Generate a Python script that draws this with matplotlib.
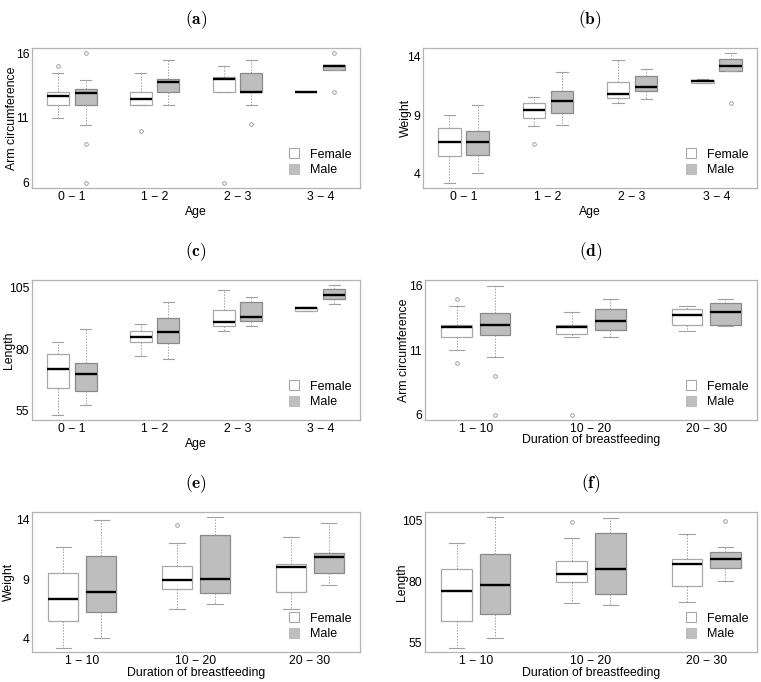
import matplotlib
matplotlib.use('Agg')
import matplotlib.pyplot as plt
from matplotlib.patches import Patch

plt.rcParams['font.family'] = ['Liberation Sans', 'DejaVu Sans']
plt.rcParams['mathtext.fontset'] = 'cm'

age_groups = ['0 \u2212 1', '1 \u2212 2', '2 \u2212 3', '3 \u2212 4']
bf_groups = ['1 \u2212 10', '10 \u2212 20', '20 \u2212 30']
sexes = ['Female', 'Male']

# five-number summaries per group: [lower whisker, Q1, median, Q3, upper whisker]
# (a) Arm circumference by age
a_female = [[11.0, 12.0, 12.69, 13.0, 14.46], [12.0, 12.0, 12.49, 13.0, 14.46],
            [13.0, 13.0, 14.0, 14.13, 15.0], [13.0, 13.0, 13.0, 13.0, 13.0]]
a_male = [[10.46, 12.0, 12.92, 13.23, 13.97], [12.0, 13.0, 13.8, 14.0, 15.46],
          [12.0, 13.0, 13.0, 14.46, 15.46], [14.7, 14.7, 15.0, 15.1, 15.1]]
a_female_out = [[15.0], [10.0], [6.0], []]
a_male_out = [[16.0, 9.0, 6.0], [], [10.5], [16.0, 13.0]]

# (b) Weight by age
b_female = [[3.2, 5.51, 6.74, 7.91, 9.03], [8.09, 8.77, 9.46, 10.09, 10.57],
            [10.09, 10.49, 10.8, 11.86, 13.74], [11.77, 11.8, 11.94, 12.06, 12.1]]
b_male = [[4.06, 5.6, 6.74, 7.66, 9.89], [8.17, 9.2, 10.2, 11.09, 12.71],
          [10.4, 11.09, 11.4, 12.37, 12.97], [12.8, 12.8, 13.2, 13.83, 14.34]]
b_female_out = [[], [6.54], [], []]
b_male_out = [[], [], [], [10.09]]

# (c) Length by age
c_female = [[53.2, 64.2, 72.0, 78.0, 82.8], [77.2, 82.8, 85.1, 87.3, 90.1],
            [87.3, 89.3, 91.1, 95.8, 103.9], [95.4, 95.4, 96.6, 97.3, 97.3]]
c_male = [[57.3, 63.2, 70.1, 74.3, 88.1], [76.0, 82.7, 87.2, 92.6, 99.1],
          [89.5, 91.6, 93.0, 99.1, 101.4], [98.2, 100.3, 101.9, 104.3, 105.9]]
c_female_out = [[], [], [], []]
c_male_out = [[], [], [], []]

# (d) Arm circumference by duration of breastfeeding
d_female = [[11.0, 12.0, 12.79, 13.0, 14.46], [12.0, 12.23, 12.79, 13.0, 14.0],
            [12.46, 13.0, 13.74, 14.23, 14.46]]
d_male = [[10.49, 12.15, 12.97, 13.92, 16.0], [12.0, 12.54, 13.28, 14.23, 15.0],
          [12.92, 13.0, 14.0, 14.69, 15.0]]
d_female_out = [[15.0, 10.0], [6.0], []]
d_male_out = [[9.0, 6.0], [], []]

# (e) Weight by duration of breastfeeding
e_female = [[3.27, 5.54, 7.34, 9.51, 11.7], [6.47, 8.16, 8.94, 10.1, 12.03],
            [6.47, 7.9, 10.04, 10.26, 12.54]]
e_male = [[4.11, 6.22, 7.9, 10.94, 14.0], [6.92, 7.82, 9.06, 12.7, 14.22],
          [8.49, 9.51, 10.85, 11.19, 13.72]]
e_female_out = [[], [13.6], []]
e_male_out = [[], [], []]

# (f) Length by duration of breastfeeding
f_female = [[52.9, 64.0, 76.1, 85.0, 95.7], [71.4, 79.7, 83.2, 88.3, 97.7],
            [71.8, 78.0, 87.1, 89.1, 99.4]]
f_male = [[57.1, 66.9, 78.4, 91.2, 106.4], [70.6, 74.7, 85.3, 99.8, 106.0],
          [80.1, 85.4, 89.2, 92.0, 94.0]]
f_female_out = [[], [104.3], []]
f_male_out = [[], [], [104.7]]

FEMALE_FACE, FEMALE_EDGE = 'white', '#a8a8a8'
MALE_FACE, MALE_EDGE = '#bebebe', '#8a8a8a'
FS = 8.8

W, H = 761, 682
fig = plt.figure(figsize=(W / 100, H / 100), dpi=100)


def add_axes(px_left, px_top, px_right, px_bottom):
    return fig.add_axes([px_left / W, 1 - px_bottom / H,
                         (px_right - px_left) / W, (px_bottom - px_top) / H])


def to_stats(five, out):
    return dict(whislo=five[0], q1=five[1], med=five[2], q3=five[3],
                whishi=five[4], fliers=out, label='')


def panel(ax, female, male, fem_out, male_out, groups, ylim, yticks,
          ylabel, xlabel, title, ylab_x, xlab_y):
    n = len(groups)
    for sex_i, (data, outs, face, edge) in enumerate(
            [(female, fem_out, FEMALE_FACE, FEMALE_EDGE),
             (male, male_out, MALE_FACE, MALE_EDGE)]):
        stats = [to_stats(f, o) for f, o in zip(data, outs)]
        pos = [3 * k + 1 + sex_i for k in range(n)]
        ax.bxp(stats, positions=pos, widths=0.8, capwidths=0.4,
               patch_artist=True, showfliers=True,
               boxprops=dict(facecolor=face, edgecolor=edge, linewidth=0.9),
               medianprops=dict(color='black', linewidth=1.7,
                                solid_capstyle='butt'),
               whiskerprops=dict(color='#a0a0a0', linewidth=0.7,
                                 linestyle=(0, (1.5, 1.5))),
               capprops=dict(color='#a0a0a0', linewidth=0.8),
               flierprops=dict(marker='o', markerfacecolor='none',
                               markeredgecolor='#909090', markersize=2.6,
                               markeredgewidth=0.6, linestyle='none'))
    span = 3 * n - 1
    pad = 0.04 * span
    ax.set_xlim(0.5 - pad, span + 0.5 + pad)
    ax.set_xticks([3 * k + 1.5 for k in range(n)])
    ax.set_xticklabels(groups)
    ax.set_ylim(*ylim)
    ax.set_yticks(yticks)
    ax.set_yticklabels([str(t) for t in yticks])
    ax.tick_params(length=0, pad=2.0, labelsize=FS, colors='black')
    for s in ax.spines.values():
        s.set_color('#b3b3b3')
        s.set_linewidth(0.9)
    ax.set_ylabel(ylabel, fontsize=FS)
    ax.yaxis.set_label_coords(ylab_x, 0.5)
    ax.set_xlabel(xlabel, fontsize=FS)
    ax.xaxis.set_label_coords(0.5, xlab_y)
    handles = [Patch(facecolor=FEMALE_FACE, edgecolor=FEMALE_EDGE, linewidth=0.8),
               Patch(facecolor=MALE_FACE, edgecolor=MALE_FACE, linewidth=0.8)]
    ax.legend(handles, sexes, loc='lower right', bbox_to_anchor=(1.0, 0.02),
              frameon=False, fontsize=9.0, handlelength=0.8, handleheight=0.8,
              handletextpad=0.9, labelspacing=0.3, borderaxespad=0.3)
    ax.set_title(title, fontsize=12.5, pad=17)


ax_a = add_axes(32, 48, 360, 188)
ax_b = add_axes(423, 48, 757, 188)
ax_c = add_axes(32, 280, 360, 420)
ax_d = add_axes(425, 280, 757, 420)
ax_e = add_axes(32, 512, 360, 652)
ax_f = add_axes(425, 512, 757, 652)

panel(ax_a, a_female, a_male, a_female_out, a_male_out, age_groups,
      (5.6, 16.4), [6, 11, 16], 'Arm circumference', 'Age', r'$\mathbf{(a)}$',
      -0.043, -0.13)
panel(ax_b, b_female, b_male, b_female_out, b_male_out, age_groups,
      (2.77, 14.77), [4, 9, 14], 'Weight', 'Age', r'$\mathbf{(b)}$',
      -0.033, -0.13)
panel(ax_c, c_female, c_male, c_female_out, c_male_out, age_groups,
      (51.3, 108.1), [55, 80, 105], 'Length', 'Age', r'$\mathbf{(c)}$',
      -0.052, -0.13)
panel(ax_d, d_female, d_male, d_female_out, d_male_out, bf_groups,
      (5.6, 16.45), [6, 11, 16], 'Arm circumference', 'Duration of breastfeeding',
      r'$\mathbf{(d)}$', -0.045, -0.10)
panel(ax_e, e_female, e_male, e_female_out, e_male_out, bf_groups,
      (2.9, 14.65), [4, 9, 14], 'Weight', 'Duration of breastfeeding',
      r'$\mathbf{(e)}$', -0.052, -0.105)
panel(ax_f, f_female, f_male, f_female_out, f_male_out, bf_groups,
      (51.2, 108.4), [55, 80, 105], 'Length', 'Duration of breastfeeding',
      r'$\mathbf{(f)}$', -0.051, -0.105)

fig.savefig('out.png', dpi=100)
